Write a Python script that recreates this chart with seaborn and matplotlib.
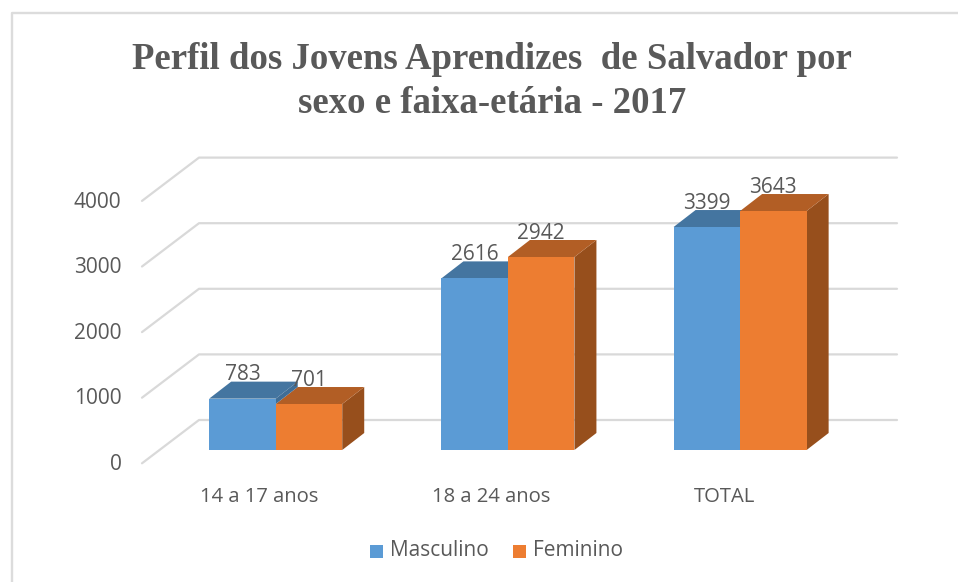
import matplotlib
matplotlib.use("Agg")
import matplotlib.pyplot as plt
import pandas as pd
import seaborn as sns
from matplotlib.lines import Line2D
from matplotlib.patches import Polygon, Rectangle
from matplotlib.transforms import ScaledTranslation

categories = ["14 a 17 anos", "18 a 24 anos", "TOTAL"]
masculino = [783, 2616, 3399]
feminino = [701, 2942, 3643]
y_ticks = [0, 1000, 2000, 3000, 4000]

TEXT = "#595959"
GRID = "#d9d9d9"
BLUE, BLUE_TOP, BLUE_SIDE = "#5b9bd5", "#4475a0", "#3f6d96"
ORANGE, ORANGE_TOP, ORANGE_SIDE = "#ed7d31", "#b25e25", "#974f1c"
W, H = 958, 582
DX, DY = 22, 17  # bar depth, pixels


def px(x, y):
    # offset in pixels, y going up
    return ScaledTranslation(x / 100, y / 100, fig.dpi_scale_trans)


df = pd.DataFrame({
    "categoria": categories * 2,
    "sexo": ["Masculino"] * 3 + ["Feminino"] * 3,
    "valor": masculino + feminino,
})

sns.set_theme(style="white")
plt.rcParams["font.family"] = ["Open Sans", "DejaVu Sans"]

fig = plt.figure(figsize=(W / 100, H / 100), dpi=100)
left, right, top, bottom = 159.6, 856.2, 187.6, 450
ax = fig.add_axes([left / W, 1 - bottom / H, (right - left) / W, (bottom - top) / H])

sns.barplot(
    data=df, x="categoria", y="valor", hue="sexo",
    palette=[BLUE, ORANGE], width=0.573, gap=0, saturation=1,
    linewidth=0, edgecolor="none", legend=False, ax=ax, zorder=5,
)
ax.set_xlim(-0.5, 2.5)
ax.set_ylim(0, 4000)
ax.set_xlabel("")
ax.set_ylabel("")
sns.despine(ax=ax, left=True, bottom=True)
ax.patch.set_alpha(0)

# pixel sizes in axes fraction (x) and value units (y)
PX_X = 1 / (right - left)
PX_Y = 4000 / (bottom - top)

# back wall and side wall gridlines, tied to the value axis
ytrans = ax.get_yaxis_transform()
x_front, x_back, x_end = (142 - left) * PX_X, (199 - left) * PX_X, (897 - left) * PX_X
for v in y_ticks:
    y_back = v + 30 * PX_Y
    y_front = v - 13.3 * PX_Y
    ax.add_line(Line2D([x_front, x_back, x_end], [y_front, y_back, y_back], transform=ytrans,
                       color=GRID, lw=1.6, clip_on=False, zorder=1))

# depth faces of each bar, built from the bar rectangles
bars = list(ax.patches)
n = len(categories)
for i in range(n):
    for j, (bar, c_top, c_side) in enumerate([
        (bars[i], BLUE_TOP, BLUE_SIDE),
        (bars[i + n], ORANGE_TOP, ORANGE_SIDE),
    ]):
        x, w, h = bar.get_x(), bar.get_width(), bar.get_height()
        x2 = x + w
        dx, dy = DX * PX_X * 3, DY * PX_Y  # xlim spans 3 categories
        low = 0
        order = 4
        if j == 0:
            # blue side only shows above a shorter orange bar
            low = bars[i + n].get_height()
            order = 4.5
        if h > low:
            ax.add_patch(Polygon([(x2, low), (x2 + dx, low + dy), (x2 + dx, h + dy), (x2, h)],
                                 closed=True, fc=c_side, ec="none", zorder=order, clip_on=False))
        ax.add_patch(Polygon([(x, h), (x2, h), (x2 + dx, h + dy), (x + dx, h + dy)],
                             closed=True, fc=c_top, ec="none", zorder=3 + j, clip_on=False))
        ax.text(x + w / 2, h, f"{h:.0f}", transform=ax.transData + px(0, 24),
                ha="center", va="center", fontsize=15, color=TEXT, zorder=8, clip_on=False)

ax.set_yticks(y_ticks)
ax.set_xticks(range(n))
ax.set_xticklabels(categories)
ax.tick_params(axis="y", length=0, labelsize=15, labelcolor=TEXT, pad=0)
ax.tick_params(axis="x", length=0, labelsize=14.6, labelcolor=TEXT, pad=27)
for label in ax.get_yticklabels():
    label.set_transform(label.get_transform() + px(-38, -12))
for label, shift in zip(ax.get_xticklabels(), [-17, -17, -16]):
    label.set_transform(label.get_transform() + px(shift, 0))

fig.text(492 / W, 1 - 81.5 / H, "Perfil dos Jovens Aprendizes  de Salvador por\nsexo e faixa-etária - 2017",
         ha="center", va="center", fontsize=26.5, fontweight="bold", color=TEXT,
         family="Liberation Serif", linespacing=1.36)

# legend
legend_items = [("Masculino", BLUE, 370, 390), ("Feminino", ORANGE, 513, 533)]
for name, color, xs, xt in legend_items:
    fig.add_artist(Rectangle((xs / W, 1 - 557.5 / H), 13 / W, 13 / H, transform=fig.transFigure,
                             fc=color, ec="none"))
    fig.text(xt / W, 1 - 551 / H, name, ha="left", va="center", fontsize=15, color=TEXT)

# chart frame, top and left only
fig.add_artist(Line2D([12 / W, 12 / W, 1], [0, 1 - 12.5 / H, 1 - 12.5 / H], color="#dcdcdc", lw=1.7))

fig.savefig("out.png", dpi=100)
